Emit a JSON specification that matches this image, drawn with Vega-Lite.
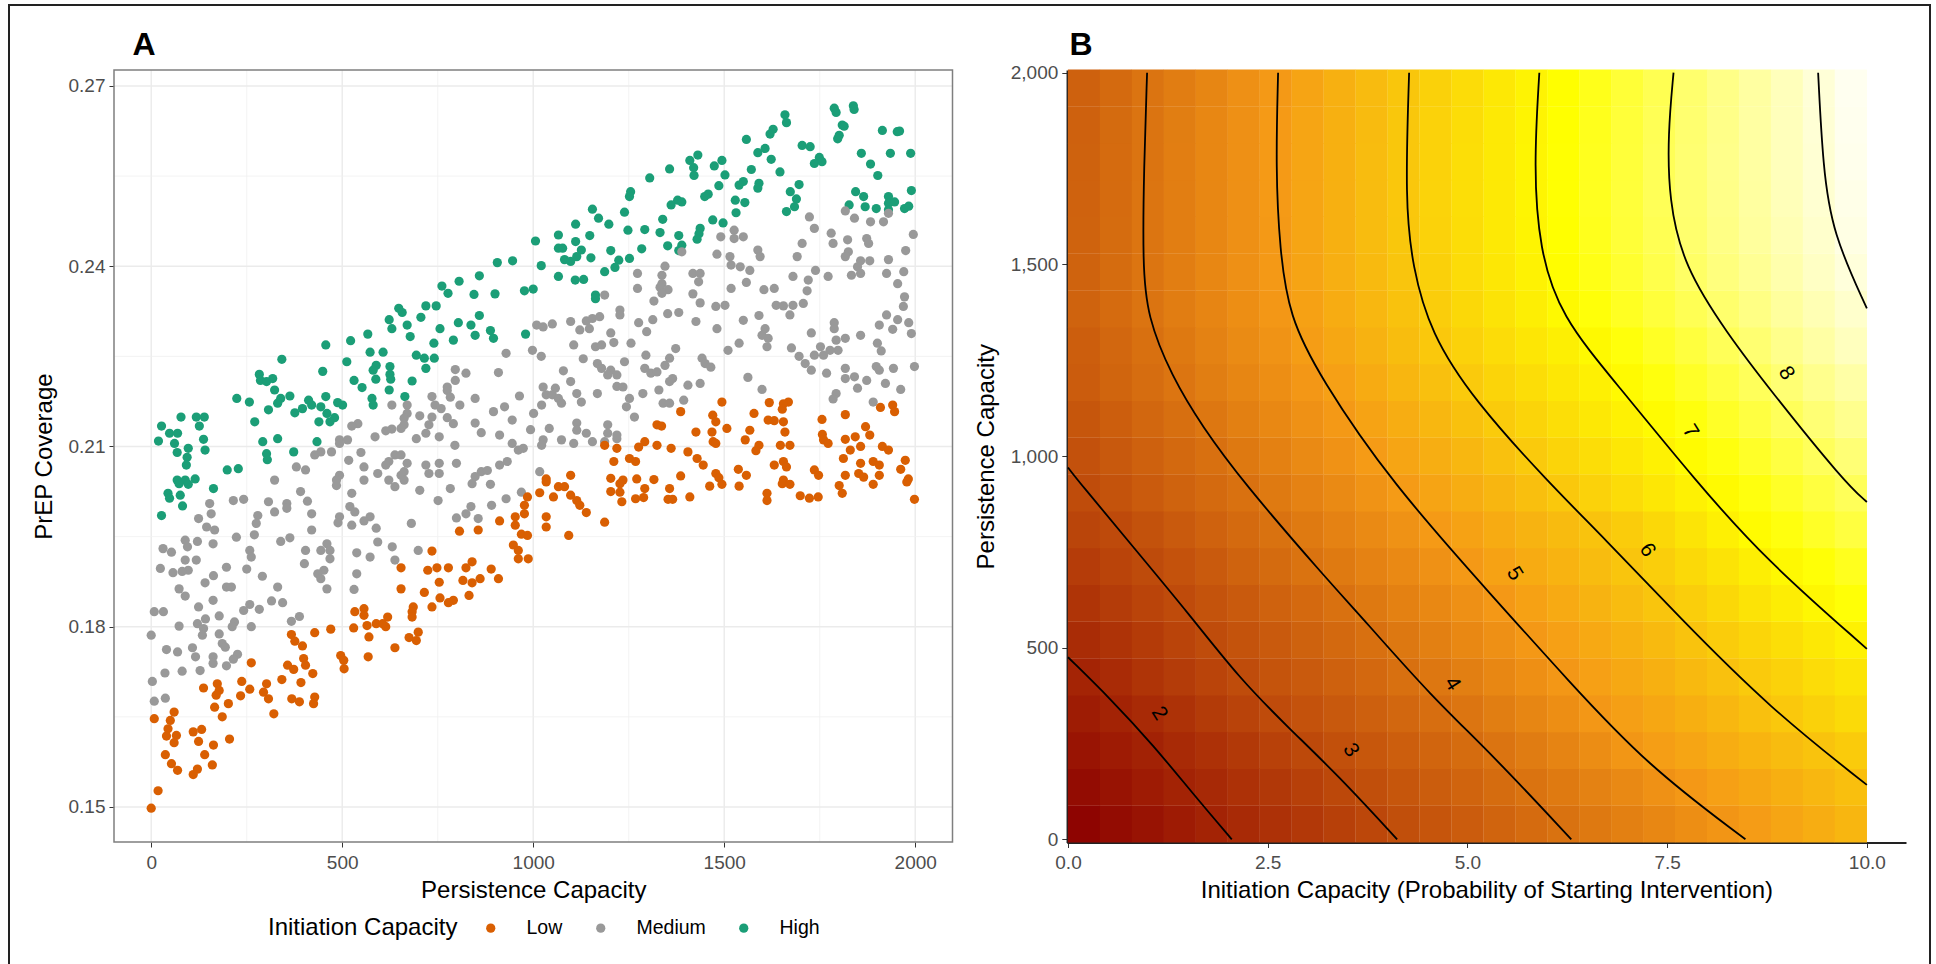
{"$schema":"https://vega.github.io/schema/vega-lite/v6.json","width":1921,"height":961,"padding":{"left":9,"top":5,"right":6,"bottom":0},"autosize":{"type":"none"},"background":"white","config":{"view":{"stroke":"#222222","strokeWidth":2},"font":"Liberation Sans"},
"datasets":{
"scatter":[
{"x":1788,"y":0.2663,"g":"High"},{"x":1793,"y":0.2656,"g":"High"},{"x":1838,"y":0.2667,"g":"High"},{"x":1840,"y":0.2661,"g":"High"},{"x":1659,"y":0.2652,"g":"High"},{"x":1663,"y":0.2639,"g":"High"},{"x":1809,"y":0.2635,"g":"High"},{"x":1814,"y":0.2633,"g":"High"},{"x":1801,"y":0.2618,"g":"High"},{"x":1797,"y":0.2612,"g":"High"},{"x":1914,"y":0.2626,"g":"High"},{"x":1953,"y":0.2624,"g":"High"},{"x":1959,"y":0.2625,"g":"High"},{"x":1558,"y":0.2611,"g":"High"},{"x":1628,"y":0.2628,"g":"High"},{"x":1620,"y":0.262,"g":"High"},{"x":1704,"y":0.2601,"g":"High"},{"x":1725,"y":0.2599,"g":"High"},{"x":1607,"y":0.2596,"g":"High"},{"x":1588,"y":0.2589,"g":"High"},{"x":1623,"y":0.2578,"g":"High"},{"x":1859,"y":0.2588,"g":"High"},{"x":1935,"y":0.2588,"g":"High"},{"x":1988,"y":0.2588,"g":"High"},{"x":1431,"y":0.2585,"g":"High"},{"x":1410,"y":0.2576,"g":"High"},{"x":1494,"y":0.2576,"g":"High"},{"x":1474,"y":0.2567,"g":"High"},{"x":1357,"y":0.2562,"g":"High"},{"x":1420,"y":0.2564,"g":"High"},{"x":1421,"y":0.2551,"g":"High"},{"x":1305,"y":0.2547,"g":"High"},{"x":1749,"y":0.2581,"g":"High"},{"x":1736,"y":0.2571,"g":"High"},{"x":1756,"y":0.2574,"g":"High"},{"x":1883,"y":0.257,"g":"High"},{"x":1571,"y":0.2561,"g":"High"},{"x":1646,"y":0.2557,"g":"High"},{"x":1502,"y":0.2552,"g":"High"},{"x":1902,"y":0.2551,"g":"High"},{"x":1550,"y":0.2541,"g":"High"},{"x":1539,"y":0.2535,"g":"High"},{"x":1591,"y":0.2538,"g":"High"},{"x":1588,"y":0.253,"g":"High"},{"x":1486,"y":0.2534,"g":"High"},{"x":1255,"y":0.2524,"g":"High"},{"x":1252,"y":0.2516,"g":"High"},{"x":1458,"y":0.252,"g":"High"},{"x":1449,"y":0.2516,"g":"High"},{"x":1696,"y":0.2536,"g":"High"},{"x":1673,"y":0.2524,"g":"High"},{"x":1689,"y":0.2512,"g":"High"},{"x":1844,"y":0.2524,"g":"High"},{"x":1990,"y":0.2526,"g":"High"},{"x":1865,"y":0.2516,"g":"High"},{"x":1930,"y":0.2516,"g":"High"},{"x":1529,"y":0.251,"g":"High"},{"x":1554,"y":0.2506,"g":"High"},{"x":1378,"y":0.251,"g":"High"},{"x":1361,"y":0.2502,"g":"High"},{"x":1155,"y":0.2495,"g":"High"},{"x":1389,"y":0.2507,"g":"High"},{"x":1827,"y":0.2502,"g":"High"},{"x":1869,"y":0.2499,"g":"High"},{"x":1898,"y":0.2496,"g":"High"},{"x":1930,"y":0.2505,"g":"High"},{"x":1946,"y":0.2507,"g":"High"},{"x":1930,"y":0.2494,"g":"High"},{"x":1972,"y":0.2496,"g":"High"},{"x":1983,"y":0.25,"g":"High"},{"x":1663,"y":0.2491,"g":"High"},{"x":1684,"y":0.2499,"g":"High"},{"x":1531,"y":0.2489,"g":"High"},{"x":1171,"y":0.248,"g":"High"},{"x":1239,"y":0.249,"g":"High"},{"x":1470,"y":0.2477,"g":"High"},{"x":1497,"y":0.2472,"g":"High"},{"x":1339,"y":0.2478,"g":"High"},{"x":1066,"y":0.2452,"g":"High"},{"x":1111,"y":0.247,"g":"High"},{"x":1198,"y":0.247,"g":"High"},{"x":1248,"y":0.246,"g":"High"},{"x":1292,"y":0.2461,"g":"High"},{"x":1332,"y":0.2456,"g":"High"},{"x":1437,"y":0.2463,"g":"High"},{"x":1434,"y":0.2454,"g":"High"},{"x":1381,"y":0.2451,"g":"High"},{"x":1148,"y":0.2451,"g":"High"},{"x":1006,"y":0.2442,"g":"High"},{"x":1111,"y":0.2441,"g":"High"},{"x":1429,"y":0.2445,"g":"High"},{"x":1352,"y":0.2434,"g":"High"},{"x":1066,"y":0.243,"g":"High"},{"x":1077,"y":0.243,"g":"High"},{"x":1126,"y":0.2427,"g":"High"},{"x":1203,"y":0.2426,"g":"High"},{"x":1284,"y":0.2429,"g":"High"},{"x":1389,"y":0.2435,"g":"High"},{"x":1381,"y":0.2426,"g":"High"},{"x":1082,"y":0.2411,"g":"High"},{"x":1098,"y":0.2408,"g":"High"},{"x":1114,"y":0.2416,"g":"High"},{"x":1151,"y":0.2414,"g":"High"},{"x":1224,"y":0.241,"g":"High"},{"x":1252,"y":0.2413,"g":"High"},{"x":1214,"y":0.2398,"g":"High"},{"x":1187,"y":0.2391,"g":"High"},{"x":906,"y":0.2406,"g":"High"},{"x":946,"y":0.2409,"g":"High"},{"x":1021,"y":0.2401,"g":"High"},{"x":1066,"y":0.2383,"g":"High"},{"x":1110,"y":0.2377,"g":"High"},{"x":1132,"y":0.2378,"g":"High"},{"x":859,"y":0.2384,"g":"High"},{"x":806,"y":0.2375,"g":"High"},{"x":761,"y":0.2367,"g":"High"},{"x":777,"y":0.2355,"g":"High"},{"x":845,"y":0.2353,"g":"High"},{"x":900,"y":0.2354,"g":"High"},{"x":977,"y":0.2359,"g":"High"},{"x":1000,"y":0.2362,"g":"High"},{"x":1163,"y":0.2352,"g":"High"},{"x":1163,"y":0.2346,"g":"High"},{"x":719,"y":0.2334,"g":"High"},{"x":746,"y":0.2334,"g":"High"},{"x":648,"y":0.233,"g":"High"},{"x":657,"y":0.2323,"g":"High"},{"x":623,"y":0.2311,"g":"High"},{"x":630,"y":0.2296,"g":"High"},{"x":706,"y":0.2315,"g":"High"},{"x":859,"y":0.2318,"g":"High"},{"x":670,"y":0.2302,"g":"High"},{"x":804,"y":0.2306,"g":"High"},{"x":837,"y":0.2302,"g":"High"},{"x":848,"y":0.2285,"g":"High"},{"x":756,"y":0.2296,"g":"High"},{"x":888,"y":0.2293,"g":"High"},{"x":896,"y":0.228,"g":"High"},{"x":678,"y":0.2283,"g":"High"},{"x":980,"y":0.2287,"g":"High"},{"x":567,"y":0.2287,"g":"High"},{"x":522,"y":0.2276,"g":"High"},{"x":457,"y":0.2269,"g":"High"},{"x":791,"y":0.2277,"g":"High"},{"x":740,"y":0.2272,"g":"High"},{"x":573,"y":0.2257,"g":"High"},{"x":607,"y":0.2257,"g":"High"},{"x":512,"y":0.2241,"g":"High"},{"x":694,"y":0.2252,"g":"High"},{"x":715,"y":0.2247,"g":"High"},{"x":741,"y":0.2247,"g":"High"},{"x":589,"y":0.2235,"g":"High"},{"x":625,"y":0.2233,"g":"High"},{"x":719,"y":0.223,"g":"High"},{"x":449,"y":0.2225,"g":"High"},{"x":581,"y":0.2227,"g":"High"},{"x":625,"y":0.222,"g":"High"},{"x":342,"y":0.2245,"g":"High"},{"x":283,"y":0.222,"g":"High"},{"x":286,"y":0.221,"g":"High"},{"x":318,"y":0.2213,"g":"High"},{"x":302,"y":0.2208,"g":"High"},{"x":531,"y":0.221,"g":"High"},{"x":588,"y":0.2212,"g":"High"},{"x":627,"y":0.2212,"g":"High"},{"x":683,"y":0.2209,"g":"High"},{"x":552,"y":0.2198,"g":"High"},{"x":323,"y":0.2194,"g":"High"},{"x":623,"y":0.2194,"g":"High"},{"x":363,"y":0.2184,"g":"High"},{"x":224,"y":0.218,"g":"High"},{"x":257,"y":0.2174,"g":"High"},{"x":664,"y":0.2183,"g":"High"},{"x":578,"y":0.218,"g":"High"},{"x":581,"y":0.2169,"g":"High"},{"x":339,"y":0.218,"g":"High"},{"x":331,"y":0.2172,"g":"High"},{"x":412,"y":0.2177,"g":"High"},{"x":457,"y":0.2183,"g":"High"},{"x":420,"y":0.2169,"g":"High"},{"x":501,"y":0.2169,"g":"High"},{"x":488,"y":0.2173,"g":"High"},{"x":396,"y":0.2163,"g":"High"},{"x":376,"y":0.2156,"g":"High"},{"x":307,"y":0.2161,"g":"High"},{"x":444,"y":0.2166,"g":"High"},{"x":460,"y":0.2155,"g":"High"},{"x":480,"y":0.2148,"g":"High"},{"x":468,"y":0.2141,"g":"High"},{"x":439,"y":0.2141,"g":"High"},{"x":271,"y":0.2141,"g":"High"},{"x":78,"y":0.2149,"g":"High"},{"x":118,"y":0.2149,"g":"High"},{"x":139,"y":0.2149,"g":"High"},{"x":27,"y":0.2134,"g":"High"},{"x":126,"y":0.2134,"g":"High"},{"x":48,"y":0.2122,"g":"High"},{"x":69,"y":0.2122,"g":"High"},{"x":137,"y":0.2112,"g":"High"},{"x":19,"y":0.2109,"g":"High"},{"x":61,"y":0.2105,"g":"High"},{"x":292,"y":0.2108,"g":"High"},{"x":331,"y":0.2113,"g":"High"},{"x":97,"y":0.2097,"g":"High"},{"x":141,"y":0.2094,"g":"High"},{"x":68,"y":0.209,"g":"High"},{"x":434,"y":0.2108,"g":"High"},{"x":302,"y":0.2088,"g":"High"},{"x":304,"y":0.2078,"g":"High"},{"x":373,"y":0.2091,"g":"High"},{"x":94,"y":0.2082,"g":"High"},{"x":92,"y":0.2069,"g":"High"},{"x":199,"y":0.2061,"g":"High"},{"x":228,"y":0.2063,"g":"High"},{"x":68,"y":0.2044,"g":"High"},{"x":89,"y":0.2044,"g":"High"},{"x":115,"y":0.2046,"g":"High"},{"x":73,"y":0.2038,"g":"High"},{"x":97,"y":0.2037,"g":"High"},{"x":44,"y":0.2022,"g":"High"},{"x":48,"y":0.2014,"g":"High"},{"x":76,"y":0.2019,"g":"High"},{"x":82,"y":0.2001,"g":"High"},{"x":27,"y":0.1985,"g":"High"},{"x":163,"y":0.203,"g":"High"},
{"x":1817,"y":0.2492,"g":"Medium"},{"x":1841,"y":0.248,"g":"Medium"},{"x":1723,"y":0.2482,"g":"Medium"},{"x":1736,"y":0.2463,"g":"Medium"},{"x":1883,"y":0.2474,"g":"Medium"},{"x":1917,"y":0.2474,"g":"Medium"},{"x":1930,"y":0.2488,"g":"Medium"},{"x":1995,"y":0.2453,"g":"Medium"},{"x":1780,"y":0.2455,"g":"Medium"},{"x":1785,"y":0.2438,"g":"Medium"},{"x":1823,"y":0.2444,"g":"Medium"},{"x":1873,"y":0.2446,"g":"Medium"},{"x":1878,"y":0.2438,"g":"Medium"},{"x":1491,"y":0.2449,"g":"Medium"},{"x":1526,"y":0.246,"g":"Medium"},{"x":1526,"y":0.2446,"g":"Medium"},{"x":1550,"y":0.2449,"g":"Medium"},{"x":1588,"y":0.2427,"g":"Medium"},{"x":1594,"y":0.2416,"g":"Medium"},{"x":1704,"y":0.2438,"g":"Medium"},{"x":1691,"y":0.2416,"g":"Medium"},{"x":1481,"y":0.242,"g":"Medium"},{"x":1389,"y":0.2424,"g":"Medium"},{"x":1515,"y":0.2416,"g":"Medium"},{"x":1518,"y":0.2402,"g":"Medium"},{"x":1542,"y":0.2399,"g":"Medium"},{"x":1567,"y":0.2393,"g":"Medium"},{"x":1825,"y":0.2424,"g":"Medium"},{"x":1817,"y":0.2416,"g":"Medium"},{"x":1857,"y":0.2409,"g":"Medium"},{"x":1881,"y":0.2409,"g":"Medium"},{"x":1930,"y":0.2411,"g":"Medium"},{"x":1975,"y":0.2426,"g":"Medium"},{"x":1849,"y":0.2399,"g":"Medium"},{"x":1833,"y":0.2385,"g":"Medium"},{"x":1857,"y":0.2388,"g":"Medium"},{"x":1925,"y":0.2388,"g":"Medium"},{"x":1970,"y":0.2391,"g":"Medium"},{"x":1345,"y":0.24,"g":"Medium"},{"x":1273,"y":0.2388,"g":"Medium"},{"x":1337,"y":0.2385,"g":"Medium"},{"x":1418,"y":0.2388,"g":"Medium"},{"x":1437,"y":0.2388,"g":"Medium"},{"x":1433,"y":0.2374,"g":"Medium"},{"x":1739,"y":0.2393,"g":"Medium"},{"x":1772,"y":0.2383,"g":"Medium"},{"x":1680,"y":0.2383,"g":"Medium"},{"x":1720,"y":0.2377,"g":"Medium"},{"x":1337,"y":0.2371,"g":"Medium"},{"x":1273,"y":0.2363,"g":"Medium"},{"x":1332,"y":0.2365,"g":"Medium"},{"x":1353,"y":0.2361,"g":"Medium"},{"x":1337,"y":0.2355,"g":"Medium"},{"x":1518,"y":0.2363,"g":"Medium"},{"x":1558,"y":0.2373,"g":"Medium"},{"x":1604,"y":0.2361,"g":"Medium"},{"x":1631,"y":0.2363,"g":"Medium"},{"x":1717,"y":0.2359,"g":"Medium"},{"x":1954,"y":0.2371,"g":"Medium"},{"x":1187,"y":0.2352,"g":"Medium"},{"x":1418,"y":0.2354,"g":"Medium"},{"x":1316,"y":0.2342,"g":"Medium"},{"x":1437,"y":0.2339,"g":"Medium"},{"x":1972,"y":0.2349,"g":"Medium"},{"x":1969,"y":0.2333,"g":"Medium"},{"x":1478,"y":0.2333,"g":"Medium"},{"x":1502,"y":0.2335,"g":"Medium"},{"x":1636,"y":0.2335,"g":"Medium"},{"x":1655,"y":0.2334,"g":"Medium"},{"x":1680,"y":0.2335,"g":"Medium"},{"x":1707,"y":0.2338,"g":"Medium"},{"x":1227,"y":0.2327,"g":"Medium"},{"x":1227,"y":0.2319,"g":"Medium"},{"x":1672,"y":0.2319,"g":"Medium"},{"x":1352,"y":0.2321,"g":"Medium"},{"x":1381,"y":0.2323,"g":"Medium"},{"x":1925,"y":0.2319,"g":"Medium"},{"x":1954,"y":0.2311,"g":"Medium"},{"x":1983,"y":0.2306,"g":"Medium"},{"x":1313,"y":0.2311,"g":"Medium"},{"x":1591,"y":0.2318,"g":"Medium"},{"x":1009,"y":0.2302,"g":"Medium"},{"x":1026,"y":0.2299,"g":"Medium"},{"x":1050,"y":0.2304,"g":"Medium"},{"x":1098,"y":0.2308,"g":"Medium"},{"x":1139,"y":0.2309,"g":"Medium"},{"x":1155,"y":0.2313,"g":"Medium"},{"x":1174,"y":0.2316,"g":"Medium"},{"x":1147,"y":0.2296,"g":"Medium"},{"x":1122,"y":0.2294,"g":"Medium"},{"x":1276,"y":0.2306,"g":"Medium"},{"x":1426,"y":0.2308,"g":"Medium"},{"x":1550,"y":0.231,"g":"Medium"},{"x":1906,"y":0.2302,"g":"Medium"},{"x":1788,"y":0.2306,"g":"Medium"},{"x":1788,"y":0.2296,"g":"Medium"},{"x":1941,"y":0.2295,"g":"Medium"},{"x":1990,"y":0.2288,"g":"Medium"},{"x":1481,"y":0.2296,"g":"Medium"},{"x":1607,"y":0.2296,"g":"Medium"},{"x":1203,"y":0.2289,"g":"Medium"},{"x":1297,"y":0.2291,"g":"Medium"},{"x":1599,"y":0.2285,"g":"Medium"},{"x":1728,"y":0.2289,"g":"Medium"},{"x":1615,"y":0.228,"g":"Medium"},{"x":1857,"y":0.2285,"g":"Medium"},{"x":1817,"y":0.228,"g":"Medium"},{"x":1793,"y":0.2277,"g":"Medium"},{"x":1612,"y":0.2266,"g":"Medium"},{"x":1211,"y":0.2273,"g":"Medium"},{"x":1256,"y":0.2272,"g":"Medium"},{"x":1539,"y":0.2272,"g":"Medium"},{"x":1106,"y":0.2269,"g":"Medium"},{"x":1163,"y":0.2266,"g":"Medium"},{"x":1179,"y":0.2269,"g":"Medium"},{"x":1901,"y":0.2272,"g":"Medium"},{"x":1676,"y":0.2264,"g":"Medium"},{"x":1510,"y":0.226,"g":"Medium"},{"x":1373,"y":0.2263,"g":"Medium"},{"x":1752,"y":0.2266,"g":"Medium"},{"x":1798,"y":0.226,"g":"Medium"},{"x":1736,"y":0.2252,"g":"Medium"},{"x":1760,"y":0.2252,"g":"Medium"},{"x":1777,"y":0.226,"g":"Medium"},{"x":1911,"y":0.2259,"g":"Medium"},{"x":998,"y":0.226,"g":"Medium"},{"x":929,"y":0.2255,"g":"Medium"},{"x":1021,"y":0.225,"g":"Medium"},{"x":1295,"y":0.2252,"g":"Medium"},{"x":1696,"y":0.225,"g":"Medium"},{"x":1131,"y":0.2246,"g":"Medium"},{"x":1239,"y":0.2241,"g":"Medium"},{"x":1357,"y":0.2247,"g":"Medium"},{"x":1442,"y":0.2247,"g":"Medium"},{"x":1345,"y":0.2235,"g":"Medium"},{"x":1168,"y":0.2238,"g":"Medium"},{"x":1450,"y":0.2238,"g":"Medium"},{"x":1465,"y":0.2232,"g":"Medium"},{"x":1179,"y":0.223,"g":"Medium"},{"x":1292,"y":0.223,"g":"Medium"},{"x":1308,"y":0.2222,"g":"Medium"},{"x":1324,"y":0.2224,"g":"Medium"},{"x":1079,"y":0.2226,"g":"Medium"},{"x":1712,"y":0.2238,"g":"Medium"},{"x":1728,"y":0.2227,"g":"Medium"},{"x":1898,"y":0.2233,"g":"Medium"},{"x":1998,"y":0.2233,"g":"Medium"},{"x":1817,"y":0.223,"g":"Medium"},{"x":1943,"y":0.223,"g":"Medium"},{"x":796,"y":0.2228,"g":"Medium"},{"x":824,"y":0.2222,"g":"Medium"},{"x":909,"y":0.2223,"g":"Medium"},{"x":1203,"y":0.2227,"g":"Medium"},{"x":1219,"y":0.2219,"g":"Medium"},{"x":1195,"y":0.2219,"g":"Medium"},{"x":1768,"y":0.2222,"g":"Medium"},{"x":1906,"y":0.2227,"g":"Medium"},{"x":1562,"y":0.2215,"g":"Medium"},{"x":1841,"y":0.2216,"g":"Medium"},{"x":1365,"y":0.2213,"g":"Medium"},{"x":1357,"y":0.2208,"g":"Medium"},{"x":796,"y":0.221,"g":"Medium"},{"x":1098,"y":0.2208,"g":"Medium"},{"x":1437,"y":0.2205,"g":"Medium"},{"x":1405,"y":0.2202,"g":"Medium"},{"x":1873,"y":0.221,"g":"Medium"},{"x":1817,"y":0.2213,"g":"Medium"},{"x":775,"y":0.2199,"g":"Medium"},{"x":775,"y":0.2193,"g":"Medium"},{"x":1219,"y":0.22,"g":"Medium"},{"x":1235,"y":0.2199,"g":"Medium"},{"x":1329,"y":0.2194,"g":"Medium"},{"x":1287,"y":0.2188,"g":"Medium"},{"x":1849,"y":0.2197,"g":"Medium"},{"x":1922,"y":0.2205,"g":"Medium"},{"x":1962,"y":0.2195,"g":"Medium"},{"x":1026,"y":0.2199,"g":"Medium"},{"x":1058,"y":0.2197,"g":"Medium"},{"x":1034,"y":0.2186,"g":"Medium"},{"x":1050,"y":0.2186,"g":"Medium"},{"x":964,"y":0.2184,"g":"Medium"},{"x":1114,"y":0.2188,"g":"Medium"},{"x":1168,"y":0.2188,"g":"Medium"},{"x":1599,"y":0.2195,"g":"Medium"},{"x":735,"y":0.2183,"g":"Medium"},{"x":783,"y":0.2182,"g":"Medium"},{"x":848,"y":0.218,"g":"Medium"},{"x":1066,"y":0.218,"g":"Medium"},{"x":1074,"y":0.2172,"g":"Medium"},{"x":1126,"y":0.2174,"g":"Medium"},{"x":630,"y":0.2169,"g":"Medium"},{"x":670,"y":0.2169,"g":"Medium"},{"x":1252,"y":0.218,"g":"Medium"},{"x":1793,"y":0.2188,"g":"Medium"},{"x":1785,"y":0.2179,"g":"Medium"},{"x":1394,"y":0.2177,"g":"Medium"},{"x":1340,"y":0.2172,"g":"Medium"},{"x":1357,"y":0.2172,"g":"Medium"},{"x":1890,"y":0.2174,"g":"Medium"},{"x":743,"y":0.2169,"g":"Medium"},{"x":759,"y":0.2163,"g":"Medium"},{"x":808,"y":0.2169,"g":"Medium"},{"x":1022,"y":0.2169,"g":"Medium"},{"x":925,"y":0.2166,"g":"Medium"},{"x":1244,"y":0.2166,"g":"Medium"},{"x":896,"y":0.2158,"g":"Medium"},{"x":670,"y":0.2155,"g":"Medium"},{"x":703,"y":0.2151,"g":"Medium"},{"x":735,"y":0.2149,"g":"Medium"},{"x":775,"y":0.2148,"g":"Medium"},{"x":1001,"y":0.2155,"g":"Medium"},{"x":1265,"y":0.2149,"g":"Medium"},{"x":662,"y":0.2147,"g":"Medium"},{"x":662,"y":0.2136,"g":"Medium"},{"x":848,"y":0.2139,"g":"Medium"},{"x":945,"y":0.2144,"g":"Medium"},{"x":1114,"y":0.2139,"g":"Medium"},{"x":1195,"y":0.2136,"g":"Medium"},{"x":541,"y":0.2138,"g":"Medium"},{"x":525,"y":0.2134,"g":"Medium"},{"x":727,"y":0.2136,"g":"Medium"},{"x":791,"y":0.2138,"g":"Medium"},{"x":654,"y":0.213,"g":"Medium"},{"x":630,"y":0.2129,"g":"Medium"},{"x":614,"y":0.2126,"g":"Medium"},{"x":719,"y":0.2122,"g":"Medium"},{"x":993,"y":0.2128,"g":"Medium"},{"x":1042,"y":0.213,"g":"Medium"},{"x":1114,"y":0.2127,"g":"Medium"},{"x":1139,"y":0.2122,"g":"Medium"},{"x":864,"y":0.2123,"g":"Medium"},{"x":912,"y":0.2119,"g":"Medium"},{"x":1195,"y":0.2122,"g":"Medium"},{"x":1219,"y":0.2113,"g":"Medium"},{"x":1187,"y":0.2108,"g":"Medium"},{"x":493,"y":0.2111,"g":"Medium"},{"x":514,"y":0.2111,"g":"Medium"},{"x":586,"y":0.2116,"g":"Medium"},{"x":694,"y":0.2113,"g":"Medium"},{"x":754,"y":0.2116,"g":"Medium"},{"x":1074,"y":0.2111,"g":"Medium"},{"x":1026,"y":0.2111,"g":"Medium"},{"x":1219,"y":0.2119,"g":"Medium"},{"x":1155,"y":0.2108,"g":"Medium"},{"x":1106,"y":0.2105,"g":"Medium"},{"x":795,"y":0.2102,"g":"Medium"},{"x":945,"y":0.2105,"g":"Medium"},{"x":961,"y":0.2094,"g":"Medium"},{"x":1022,"y":0.2102,"g":"Medium"},{"x":974,"y":0.2097,"g":"Medium"},{"x":493,"y":0.2105,"g":"Medium"},{"x":444,"y":0.2091,"g":"Medium"},{"x":428,"y":0.2086,"g":"Medium"},{"x":472,"y":0.2091,"g":"Medium"},{"x":549,"y":0.209,"g":"Medium"},{"x":638,"y":0.2086,"g":"Medium"},{"x":622,"y":0.2075,"g":"Medium"},{"x":654,"y":0.2086,"g":"Medium"},{"x":517,"y":0.2077,"g":"Medium"},{"x":380,"y":0.2066,"g":"Medium"},{"x":404,"y":0.2061,"g":"Medium"},{"x":557,"y":0.2066,"g":"Medium"},{"x":614,"y":0.2069,"g":"Medium"},{"x":670,"y":0.2072,"g":"Medium"},{"x":719,"y":0.2069,"g":"Medium"},{"x":754,"y":0.2072,"g":"Medium"},{"x":799,"y":0.2072,"g":"Medium"},{"x":912,"y":0.2069,"g":"Medium"},{"x":932,"y":0.2075,"g":"Medium"},{"x":593,"y":0.2055,"g":"Medium"},{"x":662,"y":0.2058,"g":"Medium"},{"x":654,"y":0.2052,"g":"Medium"},{"x":864,"y":0.2058,"g":"Medium"},{"x":880,"y":0.206,"g":"Medium"},{"x":493,"y":0.2052,"g":"Medium"},{"x":727,"y":0.2055,"g":"Medium"},{"x":754,"y":0.2055,"g":"Medium"},{"x":1017,"y":0.2058,"g":"Medium"},{"x":848,"y":0.205,"g":"Medium"},{"x":323,"y":0.2044,"g":"Medium"},{"x":485,"y":0.2044,"g":"Medium"},{"x":557,"y":0.2044,"g":"Medium"},{"x":622,"y":0.2044,"g":"Medium"},{"x":662,"y":0.2044,"g":"Medium"},{"x":391,"y":0.2025,"g":"Medium"},{"x":525,"y":0.2022,"g":"Medium"},{"x":485,"y":0.2035,"g":"Medium"},{"x":638,"y":0.2033,"g":"Medium"},{"x":703,"y":0.2027,"g":"Medium"},{"x":783,"y":0.203,"g":"Medium"},{"x":751,"y":0.201,"g":"Medium"},{"x":840,"y":0.2038,"g":"Medium"},{"x":888,"y":0.2037,"g":"Medium"},{"x":929,"y":0.2013,"g":"Medium"},{"x":969,"y":0.2024,"g":"Medium"},{"x":242,"y":0.2012,"g":"Medium"},{"x":215,"y":0.201,"g":"Medium"},{"x":153,"y":0.2005,"g":"Medium"},{"x":307,"y":0.2008,"g":"Medium"},{"x":355,"y":0.2005,"g":"Medium"},{"x":409,"y":0.2009,"g":"Medium"},{"x":420,"y":0.1988,"g":"Medium"},{"x":323,"y":0.1991,"g":"Medium"},{"x":124,"y":0.198,"g":"Medium"},{"x":157,"y":0.1988,"g":"Medium"},{"x":355,"y":0.1997,"g":"Medium"},{"x":279,"y":0.1985,"g":"Medium"},{"x":493,"y":0.1983,"g":"Medium"},{"x":520,"y":0.2,"g":"Medium"},{"x":533,"y":0.1991,"g":"Medium"},{"x":573,"y":0.1983,"g":"Medium"},{"x":557,"y":0.1976,"g":"Medium"},{"x":837,"y":0.2,"g":"Medium"},{"x":824,"y":0.1988,"g":"Medium"},{"x":799,"y":0.1981,"g":"Medium"},{"x":891,"y":0.2002,"g":"Medium"},{"x":856,"y":0.198,"g":"Medium"},{"x":489,"y":0.1973,"g":"Medium"},{"x":525,"y":0.1969,"g":"Medium"},{"x":681,"y":0.1972,"g":"Medium"},{"x":589,"y":0.1964,"g":"Medium"},{"x":145,"y":0.1966,"g":"Medium"},{"x":166,"y":0.1961,"g":"Medium"},{"x":275,"y":0.1972,"g":"Medium"},{"x":420,"y":0.1961,"g":"Medium"},{"x":223,"y":0.1949,"g":"Medium"},{"x":270,"y":0.1953,"g":"Medium"},{"x":89,"y":0.1944,"g":"Medium"},{"x":121,"y":0.1942,"g":"Medium"},{"x":162,"y":0.1938,"g":"Medium"},{"x":339,"y":0.1942,"g":"Medium"},{"x":363,"y":0.1948,"g":"Medium"},{"x":593,"y":0.1941,"g":"Medium"},{"x":31,"y":0.193,"g":"Medium"},{"x":53,"y":0.1924,"g":"Medium"},{"x":95,"y":0.1933,"g":"Medium"},{"x":258,"y":0.1927,"g":"Medium"},{"x":262,"y":0.1916,"g":"Medium"},{"x":404,"y":0.1927,"g":"Medium"},{"x":444,"y":0.1927,"g":"Medium"},{"x":460,"y":0.1938,"g":"Medium"},{"x":468,"y":0.1927,"g":"Medium"},{"x":468,"y":0.1913,"g":"Medium"},{"x":538,"y":0.1923,"g":"Medium"},{"x":573,"y":0.1916,"g":"Medium"},{"x":631,"y":0.1933,"g":"Medium"},{"x":638,"y":0.1911,"g":"Medium"},{"x":699,"y":0.1927,"g":"Medium"},{"x":89,"y":0.1911,"g":"Medium"},{"x":118,"y":0.1911,"g":"Medium"},{"x":97,"y":0.1894,"g":"Medium"},{"x":24,"y":0.1897,"g":"Medium"},{"x":57,"y":0.189,"g":"Medium"},{"x":81,"y":0.1892,"g":"Medium"},{"x":197,"y":0.1899,"g":"Medium"},{"x":250,"y":0.1896,"g":"Medium"},{"x":401,"y":0.1905,"g":"Medium"},{"x":452,"y":0.1894,"g":"Medium"},{"x":436,"y":0.1888,"g":"Medium"},{"x":538,"y":0.1888,"g":"Medium"},{"x":163,"y":0.1885,"g":"Medium"},{"x":291,"y":0.1884,"g":"Medium"},{"x":444,"y":0.188,"g":"Medium"},{"x":141,"y":0.1873,"g":"Medium"},{"x":73,"y":0.1863,"g":"Medium"},{"x":331,"y":0.1866,"g":"Medium"},{"x":460,"y":0.1863,"g":"Medium"},{"x":197,"y":0.1866,"g":"Medium"},{"x":210,"y":0.1866,"g":"Medium"},{"x":531,"y":0.1862,"g":"Medium"},{"x":89,"y":0.1851,"g":"Medium"},{"x":315,"y":0.1843,"g":"Medium"},{"x":344,"y":0.184,"g":"Medium"},{"x":162,"y":0.1844,"g":"Medium"},{"x":258,"y":0.1837,"g":"Medium"},{"x":124,"y":0.1833,"g":"Medium"},{"x":283,"y":0.1829,"g":"Medium"},{"x":242,"y":0.1827,"g":"Medium"},{"x":8,"y":0.1825,"g":"Medium"},{"x":32,"y":0.1825,"g":"Medium"},{"x":388,"y":0.1817,"g":"Medium"},{"x":178,"y":0.1818,"g":"Medium"},{"x":367,"y":0.1809,"g":"Medium"},{"x":142,"y":0.1813,"g":"Medium"},{"x":218,"y":0.1808,"g":"Medium"},{"x":121,"y":0.1805,"g":"Medium"},{"x":73,"y":0.1801,"g":"Medium"},{"x":262,"y":0.18,"g":"Medium"},{"x":137,"y":0.1797,"g":"Medium"},{"x":212,"y":0.18,"g":"Medium"},{"x":0,"y":0.1786,"g":"Medium"},{"x":178,"y":0.1788,"g":"Medium"},{"x":134,"y":0.1786,"g":"Medium"},{"x":186,"y":0.1772,"g":"Medium"},{"x":194,"y":0.1766,"g":"Medium"},{"x":40,"y":0.1762,"g":"Medium"},{"x":108,"y":0.1765,"g":"Medium"},{"x":69,"y":0.1758,"g":"Medium"},{"x":116,"y":0.175,"g":"Medium"},{"x":226,"y":0.1754,"g":"Medium"},{"x":162,"y":0.175,"g":"Medium"},{"x":162,"y":0.1739,"g":"Medium"},{"x":215,"y":0.1746,"g":"Medium"},{"x":197,"y":0.1735,"g":"Medium"},{"x":81,"y":0.1726,"g":"Medium"},{"x":36,"y":0.1723,"g":"Medium"},{"x":128,"y":0.1727,"g":"Medium"},{"x":3,"y":0.1709,"g":"Medium"},{"x":37,"y":0.1681,"g":"Medium"},{"x":8,"y":0.1676,"g":"Medium"},
{"x":1494,"y":0.2174,"g":"Low"},{"x":1668,"y":0.2174,"g":"Low"},{"x":1618,"y":0.2173,"g":"Low"},{"x":1655,"y":0.2171,"g":"Low"},{"x":1652,"y":0.2162,"g":"Low"},{"x":1578,"y":0.2155,"g":"Low"},{"x":1386,"y":0.2158,"g":"Low"},{"x":1470,"y":0.2152,"g":"Low"},{"x":1478,"y":0.2141,"g":"Low"},{"x":1909,"y":0.2165,"g":"Low"},{"x":1941,"y":0.2169,"g":"Low"},{"x":1946,"y":0.2158,"g":"Low"},{"x":1817,"y":0.2153,"g":"Low"},{"x":1756,"y":0.2145,"g":"Low"},{"x":1615,"y":0.2144,"g":"Low"},{"x":1631,"y":0.2143,"g":"Low"},{"x":1655,"y":0.2141,"g":"Low"},{"x":1324,"y":0.2136,"g":"Low"},{"x":1336,"y":0.2134,"g":"Low"},{"x":1507,"y":0.213,"g":"Low"},{"x":1426,"y":0.2124,"g":"Low"},{"x":1468,"y":0.2124,"g":"Low"},{"x":1567,"y":0.2127,"g":"Low"},{"x":1659,"y":0.2124,"g":"Low"},{"x":1870,"y":0.2133,"g":"Low"},{"x":1881,"y":0.2119,"g":"Low"},{"x":1757,"y":0.212,"g":"Low"},{"x":1760,"y":0.2111,"g":"Low"},{"x":1817,"y":0.2112,"g":"Low"},{"x":1843,"y":0.2116,"g":"Low"},{"x":1471,"y":0.2108,"g":"Low"},{"x":1478,"y":0.2105,"g":"Low"},{"x":1555,"y":0.2111,"g":"Low"},{"x":1772,"y":0.2105,"g":"Low"},{"x":1292,"y":0.2108,"g":"Low"},{"x":1276,"y":0.2099,"g":"Low"},{"x":1324,"y":0.2102,"g":"Low"},{"x":1187,"y":0.2102,"g":"Low"},{"x":1361,"y":0.2097,"g":"Low"},{"x":1591,"y":0.2102,"g":"Low"},{"x":1583,"y":0.2093,"g":"Low"},{"x":1647,"y":0.2102,"g":"Low"},{"x":1672,"y":0.2102,"g":"Low"},{"x":1830,"y":0.2094,"g":"Low"},{"x":1857,"y":0.21,"g":"Low"},{"x":1914,"y":0.21,"g":"Low"},{"x":1930,"y":0.2094,"g":"Low"},{"x":1219,"y":0.2097,"g":"Low"},{"x":1211,"y":0.2075,"g":"Low"},{"x":1252,"y":0.208,"g":"Low"},{"x":1268,"y":0.2075,"g":"Low"},{"x":1405,"y":0.2091,"g":"Low"},{"x":1429,"y":0.208,"g":"Low"},{"x":1445,"y":0.2069,"g":"Low"},{"x":1631,"y":0.2069,"g":"Low"},{"x":1655,"y":0.2075,"g":"Low"},{"x":1663,"y":0.2066,"g":"Low"},{"x":1812,"y":0.208,"g":"Low"},{"x":1974,"y":0.2077,"g":"Low"},{"x":1857,"y":0.2072,"g":"Low"},{"x":1890,"y":0.2075,"g":"Low"},{"x":1906,"y":0.2069,"g":"Low"},{"x":1537,"y":0.2062,"g":"Low"},{"x":1736,"y":0.2061,"g":"Low"},{"x":1747,"y":0.2052,"g":"Low"},{"x":1852,"y":0.2055,"g":"Low"},{"x":1962,"y":0.2062,"g":"Low"},{"x":1098,"y":0.2052,"g":"Low"},{"x":1034,"y":0.2046,"g":"Low"},{"x":1203,"y":0.2047,"g":"Low"},{"x":1235,"y":0.2044,"g":"Low"},{"x":1271,"y":0.2046,"g":"Low"},{"x":1316,"y":0.2045,"g":"Low"},{"x":1386,"y":0.2051,"g":"Low"},{"x":1478,"y":0.2055,"g":"Low"},{"x":1486,"y":0.2048,"g":"Low"},{"x":1558,"y":0.2052,"g":"Low"},{"x":1655,"y":0.2044,"g":"Low"},{"x":1817,"y":0.2052,"g":"Low"},{"x":1865,"y":0.2049,"g":"Low"},{"x":1906,"y":0.2052,"g":"Low"},{"x":1982,"y":0.2046,"g":"Low"},{"x":1034,"y":0.2041,"g":"Low"},{"x":1066,"y":0.2033,"g":"Low"},{"x":1082,"y":0.2033,"g":"Low"},{"x":1203,"y":0.2025,"g":"Low"},{"x":1227,"y":0.2038,"g":"Low"},{"x":1227,"y":0.2024,"g":"Low"},{"x":1292,"y":0.203,"g":"Low"},{"x":1357,"y":0.203,"g":"Low"},{"x":1462,"y":0.2034,"g":"Low"},{"x":1494,"y":0.2037,"g":"Low"},{"x":1539,"y":0.2034,"g":"Low"},{"x":1652,"y":0.2038,"g":"Low"},{"x":1672,"y":0.2037,"g":"Low"},{"x":1801,"y":0.2035,"g":"Low"},{"x":1809,"y":0.2022,"g":"Low"},{"x":1890,"y":0.2037,"g":"Low"},{"x":1978,"y":0.2041,"g":"Low"},{"x":985,"y":0.2016,"g":"Low"},{"x":1017,"y":0.2023,"g":"Low"},{"x":1053,"y":0.2016,"g":"Low"},{"x":1098,"y":0.2019,"g":"Low"},{"x":1114,"y":0.201,"g":"Low"},{"x":1122,"y":0.2002,"g":"Low"},{"x":1139,"y":0.199,"g":"Low"},{"x":1232,"y":0.2008,"g":"Low"},{"x":1268,"y":0.2013,"g":"Low"},{"x":1289,"y":0.2015,"g":"Low"},{"x":1353,"y":0.2012,"g":"Low"},{"x":1365,"y":0.2012,"g":"Low"},{"x":1410,"y":0.2016,"g":"Low"},{"x":1612,"y":0.2022,"g":"Low"},{"x":1612,"y":0.201,"g":"Low"},{"x":1699,"y":0.2018,"g":"Low"},{"x":1723,"y":0.2014,"g":"Low"},{"x":1746,"y":0.2016,"g":"Low"},{"x":1998,"y":0.2012,"g":"Low"},{"x":977,"y":0.2002,"g":"Low"},{"x":977,"y":0.1988,"g":"Low"},{"x":953,"y":0.1983,"g":"Low"},{"x":912,"y":0.1976,"g":"Low"},{"x":1034,"y":0.1983,"g":"Low"},{"x":1034,"y":0.1966,"g":"Low"},{"x":1187,"y":0.1974,"g":"Low"},{"x":807,"y":0.1959,"g":"Low"},{"x":856,"y":0.1961,"g":"Low"},{"x":953,"y":0.1969,"g":"Low"},{"x":969,"y":0.1954,"g":"Low"},{"x":985,"y":0.1952,"g":"Low"},{"x":1093,"y":0.1952,"g":"Low"},{"x":948,"y":0.1936,"g":"Low"},{"x":961,"y":0.1927,"g":"Low"},{"x":961,"y":0.1913,"g":"Low"},{"x":987,"y":0.1913,"g":"Low"},{"x":735,"y":0.1926,"g":"Low"},{"x":654,"y":0.1898,"g":"Low"},{"x":840,"y":0.1908,"g":"Low"},{"x":824,"y":0.1898,"g":"Low"},{"x":748,"y":0.1898,"g":"Low"},{"x":778,"y":0.1898,"g":"Low"},{"x":724,"y":0.1894,"g":"Low"},{"x":890,"y":0.1896,"g":"Low"},{"x":816,"y":0.1877,"g":"Low"},{"x":840,"y":0.1873,"g":"Low"},{"x":861,"y":0.188,"g":"Low"},{"x":909,"y":0.188,"g":"Low"},{"x":754,"y":0.1874,"g":"Low"},{"x":654,"y":0.1863,"g":"Low"},{"x":715,"y":0.1857,"g":"Low"},{"x":832,"y":0.1852,"g":"Low"},{"x":756,"y":0.1848,"g":"Low"},{"x":791,"y":0.1844,"g":"Low"},{"x":778,"y":0.184,"g":"Low"},{"x":686,"y":0.1833,"g":"Low"},{"x":683,"y":0.1825,"g":"Low"},{"x":683,"y":0.1816,"g":"Low"},{"x":735,"y":0.1833,"g":"Low"},{"x":533,"y":0.1825,"g":"Low"},{"x":557,"y":0.183,"g":"Low"},{"x":557,"y":0.1819,"g":"Low"},{"x":565,"y":0.1802,"g":"Low"},{"x":619,"y":0.1816,"g":"Low"},{"x":614,"y":0.18,"g":"Low"},{"x":589,"y":0.1805,"g":"Low"},{"x":606,"y":0.1805,"g":"Low"},{"x":530,"y":0.1798,"g":"Low"},{"x":470,"y":0.1796,"g":"Low"},{"x":428,"y":0.179,"g":"Low"},{"x":367,"y":0.1787,"g":"Low"},{"x":376,"y":0.1776,"g":"Low"},{"x":396,"y":0.1768,"g":"Low"},{"x":570,"y":0.1783,"g":"Low"},{"x":699,"y":0.1791,"g":"Low"},{"x":675,"y":0.1782,"g":"Low"},{"x":694,"y":0.1777,"g":"Low"},{"x":638,"y":0.1765,"g":"Low"},{"x":496,"y":0.1752,"g":"Low"},{"x":568,"y":0.175,"g":"Low"},{"x":504,"y":0.1744,"g":"Low"},{"x":505,"y":0.173,"g":"Low"},{"x":399,"y":0.1747,"g":"Low"},{"x":404,"y":0.1736,"g":"Low"},{"x":262,"y":0.174,"g":"Low"},{"x":357,"y":0.1736,"g":"Low"},{"x":373,"y":0.1729,"g":"Low"},{"x":423,"y":0.1722,"g":"Low"},{"x":342,"y":0.1712,"g":"Low"},{"x":392,"y":0.1707,"g":"Low"},{"x":237,"y":0.1709,"g":"Low"},{"x":302,"y":0.1705,"g":"Low"},{"x":137,"y":0.1698,"g":"Low"},{"x":173,"y":0.1705,"g":"Low"},{"x":178,"y":0.1694,"g":"Low"},{"x":170,"y":0.1686,"g":"Low"},{"x":258,"y":0.1696,"g":"Low"},{"x":294,"y":0.1691,"g":"Low"},{"x":234,"y":0.1685,"g":"Low"},{"x":307,"y":0.168,"g":"Low"},{"x":368,"y":0.168,"g":"Low"},{"x":388,"y":0.1675,"g":"Low"},{"x":428,"y":0.1683,"g":"Low"},{"x":425,"y":0.1672,"g":"Low"},{"x":166,"y":0.1666,"g":"Low"},{"x":202,"y":0.1672,"g":"Low"},{"x":321,"y":0.1655,"g":"Low"},{"x":60,"y":0.1658,"g":"Low"},{"x":8,"y":0.1647,"g":"Low"},{"x":50,"y":0.1644,"g":"Low"},{"x":44,"y":0.163,"g":"Low"},{"x":40,"y":0.1618,"g":"Low"},{"x":66,"y":0.1619,"g":"Low"},{"x":60,"y":0.1607,"g":"Low"},{"x":110,"y":0.1625,"g":"Low"},{"x":132,"y":0.1629,"g":"Low"},{"x":124,"y":0.1609,"g":"Low"},{"x":205,"y":0.1613,"g":"Low"},{"x":163,"y":0.1603,"g":"Low"},{"x":37,"y":0.1587,"g":"Low"},{"x":140,"y":0.1587,"g":"Low"},{"x":53,"y":0.1572,"g":"Low"},{"x":69,"y":0.1561,"g":"Low"},{"x":160,"y":0.157,"g":"Low"},{"x":121,"y":0.1563,"g":"Low"},{"x":110,"y":0.1554,"g":"Low"},{"x":18,"y":0.1527,"g":"Low"},{"x":0,"y":0.1498,"g":"Low"},{"x":186,"y":0.165,"g":"Low"}
],
"heat":[
{"x":0.2,"y":40,"z":1.1},{"x":0.6,"y":40,"z":1.3},{"x":1,"y":40,"z":1.5},{"x":1.4,"y":40,"z":1.7},{"x":1.8,"y":40,"z":1.9},{"x":2.2,"y":40,"z":2.1},{"x":2.6,"y":40,"z":2.27},{"x":3,"y":40,"z":2.46},{"x":3.4,"y":40,"z":2.65},{"x":3.8,"y":40,"z":2.85},{"x":4.2,"y":40,"z":3.04},{"x":4.6,"y":40,"z":3.22},{"x":5,"y":40,"z":3.4},{"x":5.4,"y":40,"z":3.6},{"x":5.8,"y":40,"z":3.78},{"x":6.2,"y":40,"z":3.96},{"x":6.6,"y":40,"z":4.14},{"x":7,"y":40,"z":4.32},{"x":7.4,"y":40,"z":4.5},{"x":7.8,"y":40,"z":4.69},{"x":8.2,"y":40,"z":4.87},{"x":8.6,"y":40,"z":5.05},{"x":9,"y":40,"z":5.24},{"x":9.4,"y":40,"z":5.42},{"x":9.8,"y":40,"z":5.6},
{"x":0.2,"y":136,"z":1.3},{"x":0.6,"y":136,"z":1.5},{"x":1,"y":136,"z":1.7},{"x":1.4,"y":136,"z":1.9},{"x":1.8,"y":136,"z":2.07},{"x":2.2,"y":136,"z":2.27},{"x":2.6,"y":136,"z":2.45},{"x":3,"y":136,"z":2.67},{"x":3.4,"y":136,"z":2.86},{"x":3.8,"y":136,"z":3.05},{"x":4.2,"y":136,"z":3.24},{"x":4.6,"y":136,"z":3.42},{"x":5,"y":136,"z":3.6},{"x":5.4,"y":136,"z":3.8},{"x":5.8,"y":136,"z":3.98},{"x":6.2,"y":136,"z":4.17},{"x":6.6,"y":136,"z":4.37},{"x":7,"y":136,"z":4.56},{"x":7.4,"y":136,"z":4.76},{"x":7.8,"y":136,"z":4.95},{"x":8.2,"y":136,"z":5.12},{"x":8.6,"y":136,"z":5.29},{"x":9,"y":136,"z":5.46},{"x":9.4,"y":136,"z":5.63},{"x":9.8,"y":136,"z":5.8},
{"x":0.2,"y":232,"z":1.51},{"x":0.6,"y":232,"z":1.7},{"x":1,"y":232,"z":1.88},{"x":1.4,"y":232,"z":2.08},{"x":1.8,"y":232,"z":2.28},{"x":2.2,"y":232,"z":2.49},{"x":2.6,"y":232,"z":2.69},{"x":3,"y":232,"z":2.9},{"x":3.4,"y":232,"z":3.09},{"x":3.8,"y":232,"z":3.27},{"x":4.2,"y":232,"z":3.45},{"x":4.6,"y":232,"z":3.63},{"x":5,"y":232,"z":3.81},{"x":5.4,"y":232,"z":4},{"x":5.8,"y":232,"z":4.22},{"x":6.2,"y":232,"z":4.44},{"x":6.6,"y":232,"z":4.67},{"x":7,"y":232,"z":4.89},{"x":7.4,"y":232,"z":5.08},{"x":7.8,"y":232,"z":5.24},{"x":8.2,"y":232,"z":5.41},{"x":8.6,"y":232,"z":5.57},{"x":9,"y":232,"z":5.73},{"x":9.4,"y":232,"z":5.9},{"x":9.8,"y":232,"z":6.06},
{"x":0.2,"y":328,"z":1.73},{"x":0.6,"y":328,"z":1.9},{"x":1,"y":328,"z":2.09},{"x":1.4,"y":328,"z":2.3},{"x":1.8,"y":328,"z":2.52},{"x":2.2,"y":328,"z":2.73},{"x":2.6,"y":328,"z":2.95},{"x":3,"y":328,"z":3.14},{"x":3.4,"y":328,"z":3.32},{"x":3.8,"y":328,"z":3.5},{"x":4.2,"y":328,"z":3.68},{"x":4.6,"y":328,"z":3.86},{"x":5,"y":328,"z":4.04},{"x":5.4,"y":328,"z":4.26},{"x":5.8,"y":328,"z":4.48},{"x":6.2,"y":328,"z":4.69},{"x":6.6,"y":328,"z":4.91},{"x":7,"y":328,"z":5.1},{"x":7.4,"y":328,"z":5.28},{"x":7.8,"y":328,"z":5.46},{"x":8.2,"y":328,"z":5.64},{"x":8.6,"y":328,"z":5.82},{"x":9,"y":328,"z":6},{"x":9.4,"y":328,"z":6.2},{"x":9.8,"y":328,"z":6.4},
{"x":0.2,"y":424,"z":1.93},{"x":0.6,"y":424,"z":2.12},{"x":1,"y":424,"z":2.34},{"x":1.4,"y":424,"z":2.55},{"x":1.8,"y":424,"z":2.77},{"x":2.2,"y":424,"z":2.98},{"x":2.6,"y":424,"z":3.17},{"x":3,"y":424,"z":3.35},{"x":3.4,"y":424,"z":3.53},{"x":3.8,"y":424,"z":3.71},{"x":4.2,"y":424,"z":3.9},{"x":4.6,"y":424,"z":4.09},{"x":5,"y":424,"z":4.3},{"x":5.4,"y":424,"z":4.51},{"x":5.8,"y":424,"z":4.72},{"x":6.2,"y":424,"z":4.93},{"x":6.6,"y":424,"z":5.12},{"x":7,"y":424,"z":5.31},{"x":7.4,"y":424,"z":5.49},{"x":7.8,"y":424,"z":5.67},{"x":8.2,"y":424,"z":5.84},{"x":8.6,"y":424,"z":6.04},{"x":9,"y":424,"z":6.23},{"x":9.4,"y":424,"z":6.43},{"x":9.8,"y":424,"z":6.62},
{"x":0.2,"y":520,"z":2.15},{"x":0.6,"y":520,"z":2.32},{"x":1,"y":520,"z":2.54},{"x":1.4,"y":520,"z":2.76},{"x":1.8,"y":520,"z":2.97},{"x":2.2,"y":520,"z":3.16},{"x":2.6,"y":520,"z":3.35},{"x":3,"y":520,"z":3.54},{"x":3.4,"y":520,"z":3.73},{"x":3.8,"y":520,"z":3.91},{"x":4.2,"y":520,"z":4.11},{"x":4.6,"y":520,"z":4.32},{"x":5,"y":520,"z":4.53},{"x":5.4,"y":520,"z":4.74},{"x":5.8,"y":520,"z":4.95},{"x":6.2,"y":520,"z":5.14},{"x":6.6,"y":520,"z":5.33},{"x":7,"y":520,"z":5.51},{"x":7.4,"y":520,"z":5.7},{"x":7.8,"y":520,"z":5.89},{"x":8.2,"y":520,"z":6.08},{"x":8.6,"y":520,"z":6.29},{"x":9,"y":520,"z":6.49},{"x":9.4,"y":520,"z":6.7},{"x":9.8,"y":520,"z":6.9},
{"x":0.2,"y":616,"z":2.36},{"x":0.6,"y":616,"z":2.56},{"x":1,"y":616,"z":2.76},{"x":1.4,"y":616,"z":2.96},{"x":1.8,"y":616,"z":3.16},{"x":2.2,"y":616,"z":3.33},{"x":2.6,"y":616,"z":3.55},{"x":3,"y":616,"z":3.74},{"x":3.4,"y":616,"z":3.94},{"x":3.8,"y":616,"z":4.14},{"x":4.2,"y":616,"z":4.34},{"x":4.6,"y":616,"z":4.54},{"x":5,"y":616,"z":4.75},{"x":5.4,"y":616,"z":4.95},{"x":5.8,"y":616,"z":5.15},{"x":6.2,"y":616,"z":5.34},{"x":6.6,"y":616,"z":5.54},{"x":7,"y":616,"z":5.73},{"x":7.4,"y":616,"z":5.93},{"x":7.8,"y":616,"z":6.14},{"x":8.2,"y":616,"z":6.36},{"x":8.6,"y":616,"z":6.58},{"x":9,"y":616,"z":6.81},{"x":9.4,"y":616,"z":7.03},{"x":9.8,"y":616,"z":7.25},
{"x":0.2,"y":712,"z":2.57},{"x":0.6,"y":712,"z":2.76},{"x":1,"y":712,"z":2.94},{"x":1.4,"y":712,"z":3.14},{"x":1.8,"y":712,"z":3.35},{"x":2.2,"y":712,"z":3.56},{"x":2.6,"y":712,"z":3.77},{"x":3,"y":712,"z":3.98},{"x":3.4,"y":712,"z":4.18},{"x":3.8,"y":712,"z":4.38},{"x":4.2,"y":712,"z":4.57},{"x":4.6,"y":712,"z":4.77},{"x":5,"y":712,"z":4.98},{"x":5.4,"y":712,"z":5.17},{"x":5.8,"y":712,"z":5.36},{"x":6.2,"y":712,"z":5.55},{"x":6.6,"y":712,"z":5.74},{"x":7,"y":712,"z":5.93},{"x":7.4,"y":712,"z":6.14},{"x":7.8,"y":712,"z":6.37},{"x":8.2,"y":712,"z":6.6},{"x":8.6,"y":712,"z":6.83},{"x":9,"y":712,"z":7.05},{"x":9.4,"y":712,"z":7.25},{"x":9.8,"y":712,"z":7.45},
{"x":0.2,"y":808,"z":2.78},{"x":0.6,"y":808,"z":2.92},{"x":1,"y":808,"z":3.13},{"x":1.4,"y":808,"z":3.34},{"x":1.8,"y":808,"z":3.55},{"x":2.2,"y":808,"z":3.76},{"x":2.6,"y":808,"z":3.96},{"x":3,"y":808,"z":4.17},{"x":3.4,"y":808,"z":4.38},{"x":3.8,"y":808,"z":4.58},{"x":4.2,"y":808,"z":4.79},{"x":4.6,"y":808,"z":5},{"x":5,"y":808,"z":5.18},{"x":5.4,"y":808,"z":5.36},{"x":5.8,"y":808,"z":5.54},{"x":6.2,"y":808,"z":5.71},{"x":6.6,"y":808,"z":5.89},{"x":7,"y":808,"z":6.1},{"x":7.4,"y":808,"z":6.36},{"x":7.8,"y":808,"z":6.62},{"x":8.2,"y":808,"z":6.88},{"x":8.6,"y":808,"z":7.11},{"x":9,"y":808,"z":7.32},{"x":9.4,"y":808,"z":7.53},{"x":9.8,"y":808,"z":7.74},
{"x":0.2,"y":904,"z":2.97},{"x":0.6,"y":904,"z":3.16},{"x":1,"y":904,"z":3.36},{"x":1.4,"y":904,"z":3.56},{"x":1.8,"y":904,"z":3.75},{"x":2.2,"y":904,"z":3.94},{"x":2.6,"y":904,"z":4.16},{"x":3,"y":904,"z":4.38},{"x":3.4,"y":904,"z":4.59},{"x":3.8,"y":904,"z":4.81},{"x":4.2,"y":904,"z":5.02},{"x":4.6,"y":904,"z":5.22},{"x":5,"y":904,"z":5.41},{"x":5.4,"y":904,"z":5.6},{"x":5.8,"y":904,"z":5.8},{"x":6.2,"y":904,"z":6},{"x":6.6,"y":904,"z":6.22},{"x":7,"y":904,"z":6.44},{"x":7.4,"y":904,"z":6.67},{"x":7.8,"y":904,"z":6.89},{"x":8.2,"y":904,"z":7.1},{"x":8.6,"y":904,"z":7.32},{"x":9,"y":904,"z":7.53},{"x":9.4,"y":904,"z":7.74},{"x":9.8,"y":904,"z":7.95},
{"x":0.2,"y":1000,"z":3.1},{"x":0.6,"y":1000,"z":3.31},{"x":1,"y":1000,"z":3.51},{"x":1.4,"y":1000,"z":3.72},{"x":1.8,"y":1000,"z":3.92},{"x":2.2,"y":1000,"z":4.14},{"x":2.6,"y":1000,"z":4.36},{"x":3,"y":1000,"z":4.58},{"x":3.4,"y":1000,"z":4.8},{"x":3.8,"y":1000,"z":5.02},{"x":4.2,"y":1000,"z":5.23},{"x":4.6,"y":1000,"z":5.43},{"x":5,"y":1000,"z":5.64},{"x":5.4,"y":1000,"z":5.84},{"x":5.8,"y":1000,"z":6.05},{"x":6.2,"y":1000,"z":6.26},{"x":6.6,"y":1000,"z":6.47},{"x":7,"y":1000,"z":6.68},{"x":7.4,"y":1000,"z":6.89},{"x":7.8,"y":1000,"z":7.11},{"x":8.2,"y":1000,"z":7.32},{"x":8.6,"y":1000,"z":7.54},{"x":9,"y":1000,"z":7.76},{"x":9.4,"y":1000,"z":7.97},{"x":9.8,"y":1000,"z":8.19},
{"x":0.2,"y":1096,"z":3.24},{"x":0.6,"y":1096,"z":3.45},{"x":1,"y":1096,"z":3.67},{"x":1.4,"y":1096,"z":3.88},{"x":1.8,"y":1096,"z":4.1},{"x":2.2,"y":1096,"z":4.32},{"x":2.6,"y":1096,"z":4.54},{"x":3,"y":1096,"z":4.76},{"x":3.4,"y":1096,"z":4.98},{"x":3.8,"y":1096,"z":5.2},{"x":4.2,"y":1096,"z":5.42},{"x":4.6,"y":1096,"z":5.64},{"x":5,"y":1096,"z":5.86},{"x":5.4,"y":1096,"z":6.07},{"x":5.8,"y":1096,"z":6.27},{"x":6.2,"y":1096,"z":6.48},{"x":6.6,"y":1096,"z":6.69},{"x":7,"y":1096,"z":6.9},{"x":7.4,"y":1096,"z":7.11},{"x":7.8,"y":1096,"z":7.32},{"x":8.2,"y":1096,"z":7.53},{"x":8.6,"y":1096,"z":7.75},{"x":9,"y":1096,"z":7.96},{"x":9.4,"y":1096,"z":8.18},{"x":9.8,"y":1096,"z":8.4},
{"x":0.2,"y":1192,"z":3.4},{"x":0.6,"y":1192,"z":3.62},{"x":1,"y":1192,"z":3.83},{"x":1.4,"y":1192,"z":4.04},{"x":1.8,"y":1192,"z":4.26},{"x":2.2,"y":1192,"z":4.48},{"x":2.6,"y":1192,"z":4.69},{"x":3,"y":1192,"z":4.91},{"x":3.4,"y":1192,"z":5.13},{"x":3.8,"y":1192,"z":5.36},{"x":4.2,"y":1192,"z":5.6},{"x":4.6,"y":1192,"z":5.83},{"x":5,"y":1192,"z":6.05},{"x":5.4,"y":1192,"z":6.26},{"x":5.8,"y":1192,"z":6.47},{"x":6.2,"y":1192,"z":6.68},{"x":6.6,"y":1192,"z":6.88},{"x":7,"y":1192,"z":7.1},{"x":7.4,"y":1192,"z":7.31},{"x":7.8,"y":1192,"z":7.53},{"x":8.2,"y":1192,"z":7.74},{"x":8.6,"y":1192,"z":7.96},{"x":9,"y":1192,"z":8.17},{"x":9.4,"y":1192,"z":8.39},{"x":9.8,"y":1192,"z":8.6},
{"x":0.2,"y":1288,"z":3.45},{"x":0.6,"y":1288,"z":3.68},{"x":1,"y":1288,"z":3.91},{"x":1.4,"y":1288,"z":4.14},{"x":1.8,"y":1288,"z":4.37},{"x":2.2,"y":1288,"z":4.6},{"x":2.6,"y":1288,"z":4.83},{"x":3,"y":1288,"z":5.06},{"x":3.4,"y":1288,"z":5.29},{"x":3.8,"y":1288,"z":5.53},{"x":4.2,"y":1288,"z":5.76},{"x":4.6,"y":1288,"z":6},{"x":5,"y":1288,"z":6.22},{"x":5.4,"y":1288,"z":6.43},{"x":5.8,"y":1288,"z":6.65},{"x":6.2,"y":1288,"z":6.86},{"x":6.6,"y":1288,"z":7.08},{"x":7,"y":1288,"z":7.29},{"x":7.4,"y":1288,"z":7.51},{"x":7.8,"y":1288,"z":7.72},{"x":8.2,"y":1288,"z":7.94},{"x":8.6,"y":1288,"z":8.15},{"x":9,"y":1288,"z":8.37},{"x":9.4,"y":1288,"z":8.58},{"x":9.8,"y":1288,"z":8.8},
{"x":0.2,"y":1384,"z":3.56},{"x":0.6,"y":1384,"z":3.78},{"x":1,"y":1384,"z":4.01},{"x":1.4,"y":1384,"z":4.24},{"x":1.8,"y":1384,"z":4.46},{"x":2.2,"y":1384,"z":4.69},{"x":2.6,"y":1384,"z":4.92},{"x":3,"y":1384,"z":5.15},{"x":3.4,"y":1384,"z":5.39},{"x":3.8,"y":1384,"z":5.64},{"x":4.2,"y":1384,"z":5.88},{"x":4.6,"y":1384,"z":6.12},{"x":5,"y":1384,"z":6.36},{"x":5.4,"y":1384,"z":6.6},{"x":5.8,"y":1384,"z":6.84},{"x":6.2,"y":1384,"z":7.07},{"x":6.6,"y":1384,"z":7.28},{"x":7,"y":1384,"z":7.49},{"x":7.4,"y":1384,"z":7.7},{"x":7.8,"y":1384,"z":7.91},{"x":8.2,"y":1384,"z":8.11},{"x":8.6,"y":1384,"z":8.31},{"x":9,"y":1384,"z":8.52},{"x":9.4,"y":1384,"z":8.72},{"x":9.8,"y":1384,"z":8.92},
{"x":0.2,"y":1480,"z":3.57},{"x":0.6,"y":1480,"z":3.81},{"x":1,"y":1480,"z":4.04},{"x":1.4,"y":1480,"z":4.27},{"x":1.8,"y":1480,"z":4.5},{"x":2.2,"y":1480,"z":4.73},{"x":2.6,"y":1480,"z":4.97},{"x":3,"y":1480,"z":5.21},{"x":3.4,"y":1480,"z":5.45},{"x":3.8,"y":1480,"z":5.7},{"x":4.2,"y":1480,"z":5.94},{"x":4.6,"y":1480,"z":6.18},{"x":5,"y":1480,"z":6.43},{"x":5.4,"y":1480,"z":6.67},{"x":5.8,"y":1480,"z":6.92},{"x":6.2,"y":1480,"z":7.15},{"x":6.6,"y":1480,"z":7.38},{"x":7,"y":1480,"z":7.6},{"x":7.4,"y":1480,"z":7.83},{"x":7.8,"y":1480,"z":8.05},{"x":8.2,"y":1480,"z":8.25},{"x":8.6,"y":1480,"z":8.45},{"x":9,"y":1480,"z":8.65},{"x":9.4,"y":1480,"z":8.85},{"x":9.8,"y":1480,"z":9.05},
{"x":0.2,"y":1576,"z":3.57},{"x":0.6,"y":1576,"z":3.81},{"x":1,"y":1576,"z":4.04},{"x":1.4,"y":1576,"z":4.28},{"x":1.8,"y":1576,"z":4.51},{"x":2.2,"y":1576,"z":4.75},{"x":2.6,"y":1576,"z":4.98},{"x":3,"y":1576,"z":5.23},{"x":3.4,"y":1576,"z":5.48},{"x":3.8,"y":1576,"z":5.73},{"x":4.2,"y":1576,"z":5.97},{"x":4.6,"y":1576,"z":6.22},{"x":5,"y":1576,"z":6.47},{"x":5.4,"y":1576,"z":6.72},{"x":5.8,"y":1576,"z":6.97},{"x":6.2,"y":1576,"z":7.2},{"x":6.6,"y":1576,"z":7.44},{"x":7,"y":1576,"z":7.67},{"x":7.4,"y":1576,"z":7.9},{"x":7.8,"y":1576,"z":8.12},{"x":8.2,"y":1576,"z":8.32},{"x":8.6,"y":1576,"z":8.52},{"x":9,"y":1576,"z":8.72},{"x":9.4,"y":1576,"z":8.92},{"x":9.8,"y":1576,"z":9.12},
{"x":0.2,"y":1672,"z":3.55},{"x":0.6,"y":1672,"z":3.79},{"x":1,"y":1672,"z":4.04},{"x":1.4,"y":1672,"z":4.28},{"x":1.8,"y":1672,"z":4.51},{"x":2.2,"y":1672,"z":4.75},{"x":2.6,"y":1672,"z":4.99},{"x":3,"y":1672,"z":5.24},{"x":3.4,"y":1672,"z":5.49},{"x":3.8,"y":1672,"z":5.74},{"x":4.2,"y":1672,"z":5.99},{"x":4.6,"y":1672,"z":6.24},{"x":5,"y":1672,"z":6.48},{"x":5.4,"y":1672,"z":6.73},{"x":5.8,"y":1672,"z":6.98},{"x":6.2,"y":1672,"z":7.22},{"x":6.6,"y":1672,"z":7.46},{"x":7,"y":1672,"z":7.69},{"x":7.4,"y":1672,"z":7.93},{"x":7.8,"y":1672,"z":8.14},{"x":8.2,"y":1672,"z":8.35},{"x":8.6,"y":1672,"z":8.55},{"x":9,"y":1672,"z":8.76},{"x":9.4,"y":1672,"z":8.96},{"x":9.8,"y":1672,"z":9.16},
{"x":0.2,"y":1768,"z":3.54},{"x":0.6,"y":1768,"z":3.78},{"x":1,"y":1768,"z":4.02},{"x":1.4,"y":1768,"z":4.27},{"x":1.8,"y":1768,"z":4.51},{"x":2.2,"y":1768,"z":4.75},{"x":2.6,"y":1768,"z":5},{"x":3,"y":1768,"z":5.25},{"x":3.4,"y":1768,"z":5.49},{"x":3.8,"y":1768,"z":5.74},{"x":4.2,"y":1768,"z":5.98},{"x":4.6,"y":1768,"z":6.23},{"x":5,"y":1768,"z":6.48},{"x":5.4,"y":1768,"z":6.73},{"x":5.8,"y":1768,"z":6.98},{"x":6.2,"y":1768,"z":7.22},{"x":6.6,"y":1768,"z":7.45},{"x":7,"y":1768,"z":7.69},{"x":7.4,"y":1768,"z":7.93},{"x":7.8,"y":1768,"z":8.15},{"x":8.2,"y":1768,"z":8.36},{"x":8.6,"y":1768,"z":8.57},{"x":9,"y":1768,"z":8.78},{"x":9.4,"y":1768,"z":8.98},{"x":9.8,"y":1768,"z":9.19},
{"x":0.2,"y":1864,"z":3.53},{"x":0.6,"y":1864,"z":3.77},{"x":1,"y":1864,"z":4.01},{"x":1.4,"y":1864,"z":4.26},{"x":1.8,"y":1864,"z":4.5},{"x":2.2,"y":1864,"z":4.74},{"x":2.6,"y":1864,"z":4.99},{"x":3,"y":1864,"z":5.23},{"x":3.4,"y":1864,"z":5.48},{"x":3.8,"y":1864,"z":5.72},{"x":4.2,"y":1864,"z":5.97},{"x":4.6,"y":1864,"z":6.22},{"x":5,"y":1864,"z":6.46},{"x":5.4,"y":1864,"z":6.71},{"x":5.8,"y":1864,"z":6.96},{"x":6.2,"y":1864,"z":7.2},{"x":6.6,"y":1864,"z":7.44},{"x":7,"y":1864,"z":7.68},{"x":7.4,"y":1864,"z":7.92},{"x":7.8,"y":1864,"z":8.14},{"x":8.2,"y":1864,"z":8.35},{"x":8.6,"y":1864,"z":8.57},{"x":9,"y":1864,"z":8.78},{"x":9.4,"y":1864,"z":9},{"x":9.8,"y":1864,"z":9.21},
{"x":0.2,"y":1960,"z":3.52},{"x":0.6,"y":1960,"z":3.76},{"x":1,"y":1960,"z":4.01},{"x":1.4,"y":1960,"z":4.25},{"x":1.8,"y":1960,"z":4.49},{"x":2.2,"y":1960,"z":4.74},{"x":2.6,"y":1960,"z":4.98},{"x":3,"y":1960,"z":5.22},{"x":3.4,"y":1960,"z":5.47},{"x":3.8,"y":1960,"z":5.71},{"x":4.2,"y":1960,"z":5.95},{"x":4.6,"y":1960,"z":6.2},{"x":5,"y":1960,"z":6.44},{"x":5.4,"y":1960,"z":6.69},{"x":5.8,"y":1960,"z":6.94},{"x":6.2,"y":1960,"z":7.18},{"x":6.6,"y":1960,"z":7.42},{"x":7,"y":1960,"z":7.66},{"x":7.4,"y":1960,"z":7.89},{"x":7.8,"y":1960,"z":8.12},{"x":8.2,"y":1960,"z":8.34},{"x":8.6,"y":1960,"z":8.56},{"x":9,"y":1960,"z":8.78},{"x":9.4,"y":1960,"z":9.01},{"x":9.8,"y":1960,"z":9.22}
],
"contours":[
{"x":0,"y":475,"l":2},{"x":0.53,"y":367,"l":2},{"x":1.07,"y":245,"l":2},{"x":1.56,"y":120,"l":2},{"x":2.05,"y":0,"l":2},
{"x":0,"y":970,"l":3},{"x":0.14,"y":932,"l":3},{"x":0.8,"y":767,"l":3},{"x":1.53,"y":584,"l":3},{"x":2.15,"y":419,"l":3},{"x":2.77,"y":289,"l":3},{"x":3.38,"y":167,"l":3},{"x":4.12,"y":0,"l":3},
{"x":0.99,"y":2000,"l":4},{"x":0.95,"y":1750,"l":4},{"x":0.935,"y":1503,"l":4},{"x":0.99,"y":1364,"l":4},{"x":1.3,"y":1207,"l":4},{"x":1.68,"y":1077,"l":4},{"x":2.19,"y":932,"l":4},{"x":3.2,"y":688,"l":4},{"x":3.73,"y":567,"l":4},{"x":4.54,"y":375,"l":4},{"x":5.32,"y":219,"l":4},{"x":6.3,"y":0,"l":4},
{"x":2.63,"y":2000,"l":5},{"x":2.6,"y":1750,"l":5},{"x":2.65,"y":1538,"l":5},{"x":2.77,"y":1364,"l":5},{"x":3.15,"y":1207,"l":5},{"x":4.04,"y":932,"l":5},{"x":5.34,"y":628,"l":5},{"x":6.24,"y":419,"l":5},{"x":7.25,"y":193,"l":5},{"x":8.48,"y":0,"l":5},
{"x":4.27,"y":2000,"l":6},{"x":4.22,"y":1668,"l":6},{"x":4.31,"y":1494,"l":6},{"x":4.54,"y":1320,"l":6},{"x":5.08,"y":1146,"l":6},{"x":6.01,"y":932,"l":6},{"x":6.72,"y":784,"l":6},{"x":7.63,"y":584,"l":6},{"x":8.79,"y":341,"l":6},{"x":10,"y":142,"l":6},
{"x":5.9,"y":2000,"l":7},{"x":5.83,"y":1755,"l":7},{"x":5.9,"y":1538,"l":7},{"x":6.17,"y":1364,"l":7},{"x":6.86,"y":1190,"l":7},{"x":7.87,"y":932,"l":7},{"x":8.72,"y":732,"l":7},{"x":10,"y":497,"l":7},
{"x":7.58,"y":2000,"l":8},{"x":7.51,"y":1842,"l":8},{"x":7.52,"y":1668,"l":8},{"x":7.71,"y":1494,"l":8},{"x":8.25,"y":1320,"l":8},{"x":8.79,"y":1172,"l":8},{"x":9.72,"y":932,"l":8},{"x":10,"y":880,"l":8},
{"x":9.39,"y":2000,"l":9},{"x":9.45,"y":1755,"l":9},{"x":9.57,"y":1581,"l":9},{"x":10,"y":1385,"l":9}
],
"labels":[{"x":1.14,"y":328,"l":2},{"x":3.54,"y":232,"l":3},{"x":4.81,"y":406,"l":4},{"x":5.59,"y":693,"l":5},{"x":7.25,"y":754,"l":6},{"x":7.79,"y":1064,"l":7},{"x":8.99,"y":1216,"l":8}]
},
"layer":[
{"layer":[
{"data":{"values":[{"x":0},{"x":500},{"x":1000},{"x":1500},{"x":2000}]},"mark":{"type":"rule","color":"#ebebeb","strokeWidth":1.4},"encoding":{"x":{"field":"x","type":"quantitative","scale":{"domain":[-97.4,2097.6],"range":[105,943.5],"nice":false,"zero":false}},"y":{"datum":0.14417,"scale":{"domain":[0.14417,0.27266],"range":[837,65],"nice":false,"zero":false}},"y2":{"datum":0.27266}}},
{"data":{"values":[{"x":250},{"x":750},{"x":1250},{"x":1750}]},"mark":{"type":"rule","color":"#f0f0f0","strokeWidth":0.8},"encoding":{"x":{"field":"x","type":"quantitative"},"y":{"datum":0.14417},"y2":{"datum":0.27266}}},
{"data":{"values":[{"y":0.15},{"y":0.18},{"y":0.21},{"y":0.24},{"y":0.27}]},"mark":{"type":"rule","color":"#ebebeb","strokeWidth":1.4},"encoding":{"y":{"field":"y","type":"quantitative"},"x":{"datum":-97.4},"x2":{"datum":2097.6}}},
{"data":{"values":[{"y":0.165},{"y":0.195},{"y":0.225},{"y":0.255}]},"mark":{"type":"rule","color":"#f0f0f0","strokeWidth":0.8},"encoding":{"y":{"field":"y","type":"quantitative"},"x":{"datum":-97.4},"x2":{"datum":2097.6}}},
{"data":{"name":"scatter"},"mark":{"type":"circle","size":85,"opacity":1},"encoding":{
"x":{"field":"x","type":"quantitative","axis":{"orient":"bottom","offset":-124,"title":"Persistence Capacity","values":[0,500,1000,1500,2000],"format":"d","grid":false,"domain":false,"ticks":true,"tickColor":"#333333","tickSize":5,"labelColor":"#4d4d4d","labelFontSize":19,"labelPadding":6,"titleFontSize":24,"titleFontWeight":"normal","titleColor":"#000000","titlePadding":6}},
"y":{"field":"y","type":"quantitative","axis":{"orient":"left","offset":-105,"title":"PrEP Coverage","values":[0.15,0.18,0.21,0.24,0.27],"format":".2f","grid":false,"domain":false,"ticks":true,"tickColor":"#333333","tickSize":5,"labelColor":"#4d4d4d","labelFontSize":19,"labelPadding":4,"titleFontSize":24,"titleFontWeight":"normal","titleColor":"#000000","titlePadding":12}},
"color":{"field":"g","type":"nominal","scale":{"domain":["Low","Medium","High"],"range":["#d95f02","#999999","#1b9e77"]},"legend":{"orient":"none","legendX":259,"legendY":913,"direction":"horizontal","title":"Initiation Capacity","titleLimit":400,"titleOrient":"left","titleFontSize":24,"titleFontWeight":"normal","titleColor":"#000000","labelFontSize":19.5,"labelColor":"#000000","symbolSize":85,"symbolType":"circle","symbolOpacity":1,"columnPadding":28,"labelOffset":26,"titlePadding":23}}}},
{"data":{"values":[{}]},"mark":{"type":"rect","fill":null,"stroke":"#7f7f7f","strokeWidth":1.5},"encoding":{"x":{"datum":-97.4},"x2":{"datum":2097.6},"y":{"datum":0.14417},"y2":{"datum":0.27266}}},
{"data":{"values":[{}]},"mark":{"type":"text","text":"A","fontSize":32,"fontWeight":"bold","color":"#000000","align":"center","baseline":"middle"},"encoding":{"x":{"datum":-19},"y":{"datum":0.2768}}}
]},
{"layer":[
{"data":{"name":"heat"},"mark":{"type":"rect","width":32.2,"height":37.2},"encoding":{
"x":{"field":"x","type":"quantitative","scale":{"domain":[-0.015,10.49],"range":[1057.8,1897],"nice":false,"zero":false},"axis":{"orient":"bottom","offset":-123.5,"title":"Initiation Capacity (Probability of Starting Intervention)","values":[0,2.5,5,7.5,10],"format":".1f","grid":false,"domain":true,"domainColor":"#222222","domainWidth":2,"ticks":true,"tickColor":"#333333","tickSize":5,"labelColor":"#4d4d4d","labelFontSize":19,"labelPadding":6,"titleFontSize":24,"titleFontWeight":"normal","titleColor":"#000000","titlePadding":6}},
"y":{"field":"y","type":"quantitative","scale":{"domain":[-8.3,2007],"range":[837.5,65],"nice":false,"zero":false},"axis":{"orient":"left","offset":-1057.8,"title":"Persistence Capacity","values":[0,500,1000,1500,2000],"format":",d","grid":false,"domain":true,"domainColor":"#222222","domainWidth":1.5,"ticks":true,"tickColor":"#333333","tickSize":5,"labelColor":"#4d4d4d","labelFontSize":19,"labelPadding":4,"titleFontSize":24,"titleFontWeight":"normal","titleColor":"#000000","titlePadding":12}},
"color":{"field":"z","type":"quantitative","legend":null,"scale":{"domain":[1,5,7.2,9.35],"range":["#8b0000","#f59a16","#ffff00","#ffffff"],"interpolate":"rgb"}}}},
{"data":{"name":"contours"},"mark":{"type":"line","color":"#000000","strokeWidth":1.8,"interpolate":"basis"},"encoding":{"x":{"field":"x","type":"quantitative"},"y":{"field":"y","type":"quantitative"},"detail":{"field":"l"},"order":{"field":"y","type":"quantitative"}}},
{"data":{"name":"labels"},"mark":{"type":"text","fontSize":21,"angle":58,"color":"#000000","align":"center","baseline":"middle"},"encoding":{"x":{"field":"x","type":"quantitative"},"y":{"field":"y","type":"quantitative"},"text":{"field":"l"}}},
{"data":{"values":[{}]},"mark":{"type":"text","text":"B","fontSize":32,"fontWeight":"bold","color":"#000000","align":"center","baseline":"middle"},"encoding":{"x":{"datum":0.163},"y":{"datum":2072}}}
]}
],
"resolve":{"scale":{"x":"independent","y":"independent","color":"independent"},"axis":{"x":"independent","y":"independent"}}
}
